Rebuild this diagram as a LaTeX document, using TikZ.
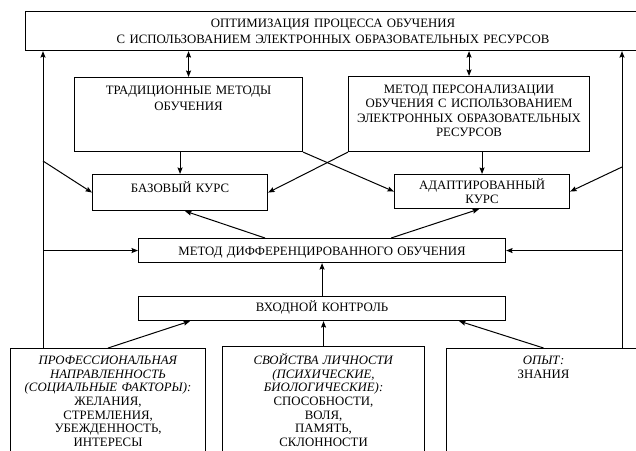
\documentclass[tikz,border=0pt]{standalone}
\usepackage{fontspec}
\setmainfont{Liberation Serif}
\usetikzlibrary{positioning,arrows.meta}
\begin{document}
\begin{tikzpicture}[
    x=1pt, y=-1pt,
    box/.style={rectangle, draw, line width=1.1pt, anchor=north west, align=center, inner xsep=0pt, inner ysep=0pt, font=\rmfamily\fontsize{12.8pt}{14.3pt}\selectfont},
    wide/.style={font=\rmfamily\fontsize{12.8pt}{15.5pt}\selectfont},
    tight/.style={font=\rmfamily\fontsize{12.8pt}{13.6pt}\selectfont},
    arrow/.style={line width=1pt,->,>={Stealth[length=6.5pt,width=5pt,inset=1pt]}},
    twoway/.style={arrow,<->}
]
    \useasboundingbox (0,0) rectangle (636,450);

    % Goal
    \node [box, wide, text width=615pt, text height=16.1pt, text depth=22.9pt] (optim) at (25,11) {ОПТИМИЗАЦИЯ ПРОЦЕССА ОБУЧЕНИЯ\\С ИСПОЛЬЗОВАНИЕМ ЭЛЕКТРОННЫХ ОБРАЗОВАТЕЛЬНЫХ РЕСУРСОВ};

    % Methods
    \node [box, wide, text width=228pt, text height=17.1pt, text depth=56.9pt] (trad) at (74,77) {ТРАДИЦИОННЫЕ МЕТОДЫ\\ОБУЧЕНИЯ};
    \node [box, text width=241pt, text height=17.1pt, text depth=57.9pt] (pers) at (348,76) {МЕТОД ПЕРСОНАЛИЗАЦИИ\\ОБУЧЕНИЯ С ИСПОЛЬЗОВАНИЕМ\\ЭЛЕКТРОННЫХ ОБРАЗОВАТЕЛЬНЫХ\\РЕСУРСОВ};

    % Courses
    \node [box, text width=175pt, text height=18.1pt, text depth=17.9pt] (base) at (92,174) {БАЗОВЫЙ КУРС};
    \node [box, text width=175pt, text height=15.1pt, text depth=18.9pt] (adapt) at (394,174) {АДАПТИРОВАННЫЙ\\КУРС};

    % Differentiation and entrance test
    \node [box, text width=367pt, text height=17.1pt, text depth=6.9pt] (diff) at (138,238) {МЕТОД ДИФФЕРЕНЦИРОВАННОГО ОБУЧЕНИЯ};
    \node [box, text width=367pt, text height=15.1pt, text depth=8.9pt] (entry) at (138,296) {ВХОДНОЙ КОНТРОЛЬ};

    % Learner factors
    \node [box, tight, text width=195pt, text height=16.1pt, text depth=120pt] (prof) at (10,348) {\textit{ПРОФЕССИОНАЛЬНАЯ}\\\textit{НАПРАВЛЕННОСТЬ}\\\textit{(СОЦИАЛЬНЫЕ ФАКТОРЫ):}\\ЖЕЛАНИЯ,\\СТРЕМЛЕНИЯ,\\УБЕЖДЕННОСТЬ,\\ИНТЕРЕСЫ};
    \node [box, tight, text width=202pt, text height=18.1pt, text depth=120pt] (traits) at (222,346) {\textit{СВОЙСТВА ЛИЧНОСТИ}\\\textit{(ПСИХИЧЕСКИЕ,}\\\textit{БИОЛОГИЧЕСКИЕ):}\\СПОСОБНОСТИ,\\ВОЛЯ,\\ПАМЯТЬ,\\СКЛОННОСТИ};
    \node [box, tight, text width=194pt, text height=16.1pt, text depth=120pt] (exp) at (446,348) {\textit{ОПЫТ:}\\ЗНАНИЯ};

    % Side lines
    \coordinate (lx) at (43,0);
    \coordinate (rx) at (622,0);
    \coordinate (lbend) at (43,161);
    \coordinate (rbend) at (622,167);

    % Arrows
    \draw [twoway] (optim.south -| trad) -- (trad.north);
    \draw [twoway] (optim.south -| pers) -- (pers.north);
    \draw [arrow] (trad.south -| base) -- (base.north);
    \draw [arrow] (pers.south -| adapt) -- (adapt.north);
    \draw [arrow] (trad.south east) -- (adapt.west);
    \draw [arrow] (pers.south west) -- (base.east);
    \draw [arrow] ([xshift=127pt]diff.north west) -- ([xshift=5pt]base.south);
    \draw [arrow] ([xshift=-115pt]diff.north east) -- ([xshift=-3pt]adapt.south);
    \draw [arrow] (entry.north) -- (diff.south);
    \draw [arrow] (prof.north) -- ([xshift=52pt]entry.south west);
    \draw [arrow] (traits.north) -- (traits.north |- entry.south);
    \draw [arrow] (exp.north) -- ([xshift=-47pt]entry.south east);

    % Feedback to the goal
    \draw [arrow] (prof.north -| lx) -- (optim.south -| lx);
    \draw [arrow] (exp.north -| rx) -- (optim.south -| rx);
    \draw [arrow] (lbend) -- (base.west);
    \draw [arrow] (rbend) -- (adapt.east);
    \draw [arrow] (diff.west -| lx) -- (diff.west);
    \draw [arrow] (diff.east -| rx) -- (diff.east);
\end{tikzpicture}
\end{document}
